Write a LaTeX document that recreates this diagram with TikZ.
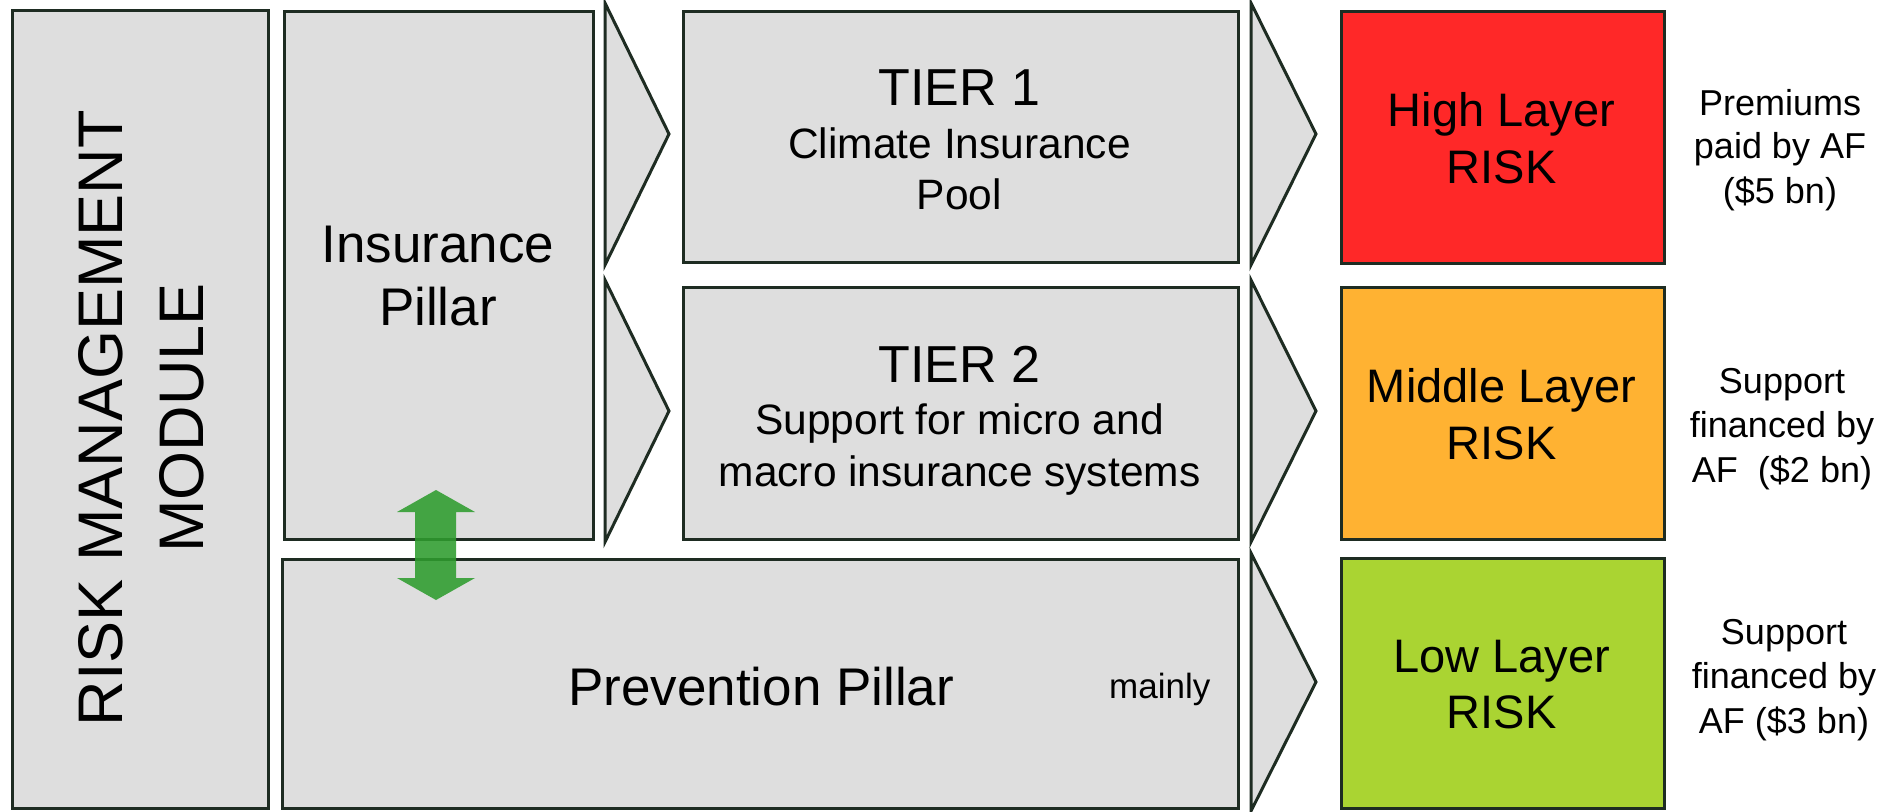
\documentclass[tikz,border=0pt]{standalone}
\usepackage{fontspec}
\setmainfont{Liberation Sans}
\begin{document}
\begin{tikzpicture}[x=1pt,y=-1pt,
  box/.style={draw=edgec, line width=3pt, fill=boxgray, anchor=north west, inner sep=0pt},
  chev/.style={draw=edgec, line width=3pt, fill=boxgray, line join=miter},
  txt/.style={anchor=base, inner sep=0pt},
  tier/.style={txt, font=\fontsize{52}{60}\selectfont},
  sub/.style={txt, font=\fontsize{42.5}{50}\selectfont},
  big/.style={txt, font=\fontsize{53}{64}\selectfont},
  risk/.style={txt, font=\fontsize{47}{56}\selectfont},
  note/.style={txt, font=\fontsize{36}{44}\selectfont}]
\definecolor{edgec}{RGB}{30,44,34}
\definecolor{boxgray}{RGB}{222,222,222}
\definecolor{riskred}{RGB}{255,40,40}
\definecolor{riskorange}{RGB}{255,178,50}
\definecolor{riskgreen}{RGB}{170,212,50}
\definecolor{arrowgreen}{RGB}{46,156,46}
\useasboundingbox (0,0) rectangle (1895,811);
\fill[white] (0,0) rectangle (1895,811);
% module
\node[box, minimum width=256pt, minimum height=798pt] (mod) at (11,9) {};
\node[align=center, inner sep=0pt, rotate=90, font=\fontsize{63}{81}\selectfont] (modt) at (141,418) {RISK MANAGEMENT\\MODULE};
% insurance pillar
\node[box, minimum width=309pt, minimum height=528pt] (ins) at (283,10) {};
\node[big] (ins1) at (438,262) {Insurance};
\node[big] (ins2) at (438,325) {Pillar};
% tiers
\node[box, minimum width=555pt, minimum height=251pt] (t1) at (682,10) {};
\node[tier] (t1a) at (959.5,105) {TIER 1};
\node[sub] (t1b) at (959.5,158) {Climate Insurance};
\node[sub] (t1c) at (959.5,209) {Pool};
\node[box, minimum width=555pt, minimum height=252pt] (t2) at (682,286) {};
\node[tier] (t2a) at (959.5,382) {TIER 2};
\node[sub] (t2b) at (959.5,434) {Support for micro and};
\node[sub] (t2c) at (959.5,486) {macro insurance systems};
% prevention
\node[box, minimum width=956pt, minimum height=249pt] (prev) at (281,558) {};
\node[big, anchor=base west] (prevt) at (568,705) {Prevention Pillar};
\node[txt, anchor=base west, font=\fontsize{35}{40}\selectfont] (mainly) at (1109,698) {mainly};
% chevrons
\draw[chev] (605,3) -- (669,134) -- (605,265) -- cycle;
\draw[chev] (605,280) -- (669,411) -- (605,542) -- cycle;
\draw[chev] (1251,3) -- (1316,134) -- (1251,265) -- cycle;
\draw[chev] (1251,280) -- (1316,411) -- (1251,542) -- cycle;
\draw[chev] (1251,553) -- (1316,682) -- (1251,811) -- cycle;
% risk boxes
\node[box, fill=riskred, minimum width=323pt, minimum height=252pt] (high) at (1340,10) {};
\node[risk] (high1) at (1501.5,126) {High Layer};
\node[risk] (high2) at (1501.5,183) {RISK};
\node[box, fill=riskorange, minimum width=323pt, minimum height=252pt] (mid) at (1340,286) {};
\node[risk] (mid1) at (1501.5,402) {Middle Layer};
\node[risk] (mid2) at (1501.5,459) {RISK};
\node[box, fill=riskgreen, minimum width=323pt, minimum height=250pt] (low) at (1340,557) {};
\node[risk] (low1) at (1501.5,672) {Low Layer};
\node[risk] (low2) at (1501.5,728) {RISK};
% right notes
\node[note] (n1a) at (1780,115) {Premiums};
\node[note] (n1b) at (1780,158) {paid by AF};
\node[note] (n1c) at (1780,203) {(\$5 bn)};
\node[note] (n2a) at (1782,393) {Support};
\node[note] (n2b) at (1782,437) {financed by};
\node[note] (n2c) at (1782,482) {AF~~(\$2 bn)};
\node[note] (n3a) at (1784,644) {Support};
\node[note] (n3b) at (1784,688) {financed by};
\node[note] (n3c) at (1784,733) {AF (\$3 bn)};
% double arrow
\fill[arrowgreen, opacity=0.88] (436,490) -- (475,512) -- (456,512) -- (456,578) -- (475,578) -- (436,600) -- (397,578) -- (415,578) -- (415,512) -- (397,512) -- cycle;
\end{tikzpicture}
\end{document}
